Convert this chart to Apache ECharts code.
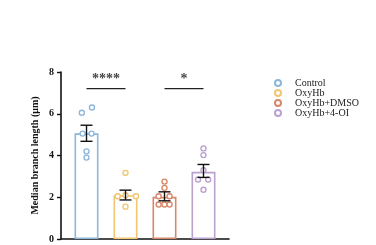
<!DOCTYPE html>
<html>
<head>
  <meta charset="UTF-8">
  <title>branch length</title>
  <script src="https://cdn.jsdelivr.net/npm/echarts@6/dist/echarts.min.js"></script>
</head>
<body style="margin: 0; background: #fff">
<div id="container" style="width: 376px; height: 245px"></div>
<script type="text/javascript">
  // groups and colours
  var categories = ['Control', 'OxyHb', 'OxyHb+DMSO', 'OxyHb+4-OI'];
  var colors = ['#8db6db', '#f1c66f', '#d8876a', '#bba1cf'];

  // bar heights (mean) and error bar ends
  var means = [5.06, 2.1, 2.02, 3.22];
  var errLow = [4.68, 1.87, 1.83, 2.95];
  var errHigh = [5.45, 2.34, 2.26, 3.57];

  // individual points per group
  var pointValues = [
    [6.05, 6.3, 5.05, 5.05, 4.2, 3.9],
    [3.17, 2.05, 2.05, 2.1, 1.55],
    [2.75, 2.45, 2.05, 2.05, 1.65, 1.65, 1.65],
    [4.34, 4.02, 3.3, 2.85, 2.85, 2.36]
  ];
  // horizontal spread of the points inside a bar (category units)
  var jitter = [
    [-0.12, 0.14, -0.1, 0.13, 0, 0],
    [0, -0.2, 0.27, 0, 0],
    [0, 0, -0.15, 0.13, -0.15, 0, 0.13],
    [0, 0, 0, -0.14, 0.12, 0]
  ];

  // significance brackets
  var brackets = [
    { from: 0, to: 1, y: 7.2, text: '****' },
    { from: 2, to: 3, y: 7.2, text: '*' }
  ];

  var yTicks = [0, 2, 4, 6, 8];

  var serif = 'Liberation Serif';
  var dom = document.getElementById('container');
  var myChart = echarts.init(dom, null, { renderer: 'canvas' });

  var series = [];

  series.push({
    type: 'bar',
    name: 'bars',
    barWidth: 24,
    z: 2,
    data: means.map(function (m, i) {
      return {
        value: [i, m],
        itemStyle: { color: '#fff', borderColor: colors[i], borderWidth: 1.6 }
      };
    })
  });

  categories.forEach(function (name, i) {
    series.push({
      type: 'scatter',
      name: name,
      symbol: 'circle',
      symbolSize: 5,
      z: 3,
      itemStyle: { color: '#fff', borderColor: colors[i], borderWidth: 1.4, opacity: 1 },
      data: pointValues[i].map(function (v, k) {
        return [i + jitter[i][k], v];
      })
    });
  });

  // error bars
  series.push({
    type: 'custom',
    name: 'sem',
    z: 4,
    renderItem: function (params, api) {
      var x = api.value(0);
      var lo = api.coord([x, api.value(1)]);
      var hi = api.coord([x, api.value(2)]);
      var w = 6;
      var st = { stroke: '#111', lineWidth: 1.4 };
      return {
        type: 'group',
        children: [
          { type: 'line', shape: { x1: lo[0], y1: lo[1], x2: hi[0], y2: hi[1] }, style: st },
          { type: 'line', shape: { x1: lo[0] - w, y1: lo[1], x2: lo[0] + w, y2: lo[1] }, style: st },
          { type: 'line', shape: { x1: hi[0] - w, y1: hi[1], x2: hi[0] + w, y2: hi[1] }, style: st }
        ]
      };
    },
    data: means.map(function (m, i) { return [i, errLow[i], errHigh[i]]; })
  });

  brackets.forEach(function (b) {
    series.push({
      type: 'line',
      name: 'bracket',
      symbol: 'none',
      lineStyle: { color: '#222', width: 1.3 },
      data: [[b.from, b.y], [b.to, b.y]]
    });
    series.push({
      type: 'scatter',
      name: 'stars',
      symbolSize: 0,
      label: {
        show: true,
        position: 'inside',
        formatter: b.text,
        color: '#111',
        fontFamily: serif,
        fontWeight: 'bold',
        fontSize: 14,
        offset: [0, -2]
      },
      data: [[(b.from + b.to) / 2, 7.55]]
    });
  });

  var option = {
    animation: false,
    backgroundColor: '#fff',
    grid: { left: 61, right: 147, top: 72, bottom: 6 },
    legend: {
      orient: 'vertical',
      left: 269,
      top: 73,
      data: categories,
      icon: 'circle',
      itemWidth: 6,
      itemHeight: 6,
      itemGap: 0,
      textStyle: {
        fontFamily: serif,
        fontSize: 10,
        lineHeight: 8.6,
        color: '#222',
        padding: [0, 0, 0, 9]
      }
    },
    xAxis: {
      type: 'value',
      min: -0.654,
      max: 3.654,
      axisLine: { show: true, onZero: false, lineStyle: { color: '#111', width: 1.6 } },
      axisTick: { show: false },
      axisLabel: { show: false },
      splitLine: { show: false }
    },
    yAxis: {
      type: 'value',
      min: yTicks[0],
      max: yTicks[yTicks.length - 1],
      interval: 2,
      name: 'Median branch length (μm)',
      nameLocation: 'middle',
      nameGap: 21,
      nameTextStyle: { fontFamily: serif, fontWeight: 'bold', fontSize: 10, color: '#111' },
      axisLine: { show: true, onZero: false, lineStyle: { color: '#111', width: 1.6 } },
      axisTick: { show: true, length: 4, lineStyle: { color: '#111', width: 1.4 } },
      axisLabel: { margin: 7, fontFamily: serif, fontWeight: 'bold', fontSize: 10, color: '#111' },
      splitLine: { show: false }
    },
    series: series
  };

  myChart.setOption(option);
</script>
</body>
</html>
